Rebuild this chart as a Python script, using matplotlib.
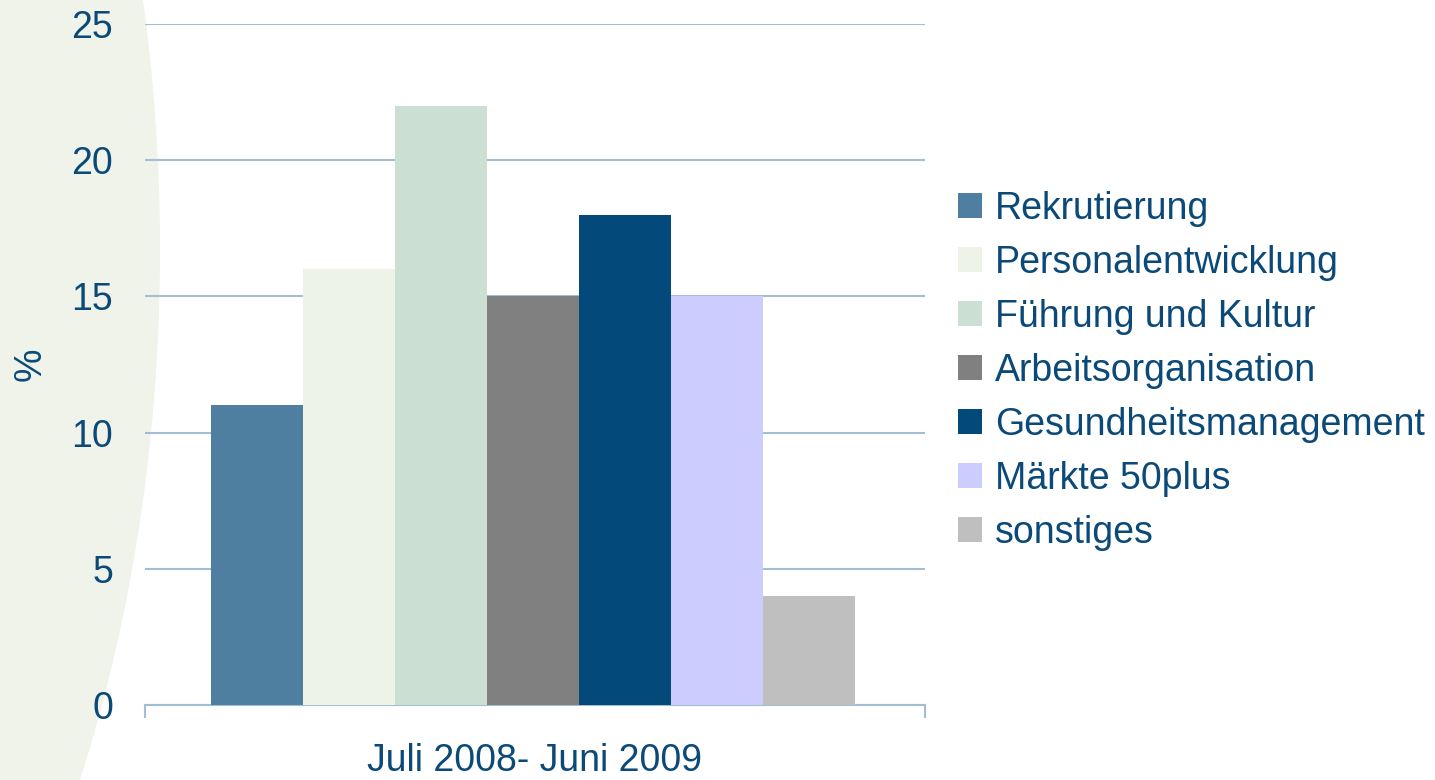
import matplotlib.pyplot as plt
from matplotlib.patches import Ellipse, Patch
import numpy as np

# Data
categories = ["Rekrutierung", "Personalentwicklung", "Führung und Kultur",
              "Arbeitsorganisation", "Gesundheitsmanagement", "Märkte 50plus",
              "sonstiges"]
values = [11, 16, 22, 15, 18, 15, 4]
colors = ["#4F7FA0", "#EEF3E8", "#CCDFD3", "#808080", "#034A7A", "#CCCCFF", "#BFBFBF"]
period_label = "Juli 2008- Juni 2009"
yticks = [0, 5, 10, 15, 20, 25]

TEXT = "#0B4A78"
GRID = "#A3BDD2"
FS = 27

plt.rcParams["font.family"] = ["Liberation Sans", "DejaVu Sans"]

fig = plt.figure(figsize=(14.35, 7.8), dpi=100)

# light green background shape on the left
bg = fig.add_axes([0, 0, 1, 1], zorder=-10)
bg.set_xlim(0, 1435)
bg.set_ylim(780, 0)
bg.axis("off")
bg.add_patch(Ellipse((-500, 250), 1320, 2220, color="#EFF3EA", lw=0))

ax = fig.add_axes([0.101, 0.0962, 0.5436, 0.873])
ax.patch.set_alpha(0)

x = np.arange(len(values))
ax.bar(x, values, width=1.0, color=colors, zorder=3)

ax.set_xlim(-1.217, -1.217 + 8.478)
ax.set_ylim(0, 25)
ax.set_yticks(yticks)
ax.yaxis.grid(True, color=GRID, lw=1.5, zorder=0)
ax.set_axisbelow(True)

for s in ["top", "right", "left"]:
    ax.spines[s].set_visible(False)
ax.spines["bottom"].set_color(GRID)
ax.spines["bottom"].set_linewidth(1.5)

ax.set_xticks(list(ax.get_xlim()))
ax.set_xticklabels(["", ""])
ax.tick_params(axis="x", length=9, width=1.5, color=GRID, direction="out")
ax.tick_params(axis="y", length=0, pad=23, labelsize=FS, labelcolor=TEXT)

ax.set_xlabel(period_label, fontsize=FS, color=TEXT, va="center")
ax.xaxis.set_label_coords(0.5, -0.083)
ax.set_ylabel("%", fontsize=FS, color=TEXT, va="center")
ax.yaxis.set_label_coords(-0.147, 0.5)

handles = [Patch(facecolor=c, edgecolor="none") for c in colors]
leg = fig.legend(handles, categories, loc="upper left",
                 bbox_to_anchor=(958 / 1435, 1 - 191 / 780),
                 frameon=False, fontsize=FS, handlelength=0.64, handleheight=0.64,
                 handletextpad=0.35, labelspacing=0.48, borderaxespad=0, borderpad=0)
for t in leg.get_texts():
    t.set_color(TEXT)

fig.savefig("out.png", dpi=100)
